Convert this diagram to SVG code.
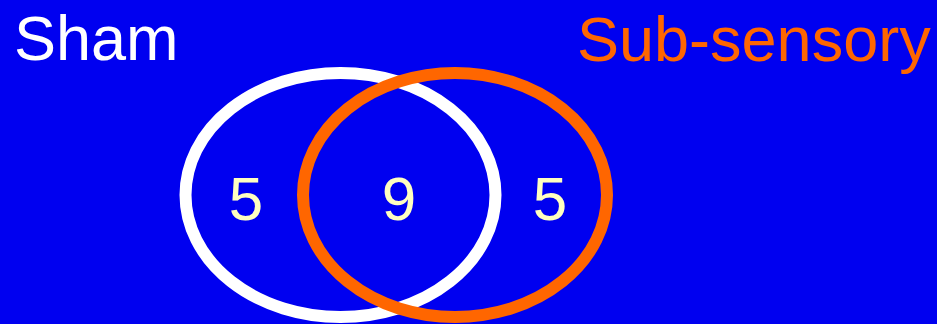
<svg xmlns="http://www.w3.org/2000/svg" width="937" height="324" viewBox="0 0 937 324">
<style>
.lbl{font-family:"Liberation Sans",Arial,sans-serif;font-size:63px}
.num{font-family:"Liberation Sans",Arial,sans-serif;font-size:62px;fill:#FFFFC0;text-anchor:middle}
.ring{fill:none;stroke-width:12}
</style>
<rect x="0" y="0" width="937" height="324" fill="#0000F0"/>
<g id="sham">
<ellipse class="ring" cx="340.5" cy="195" rx="155" ry="122" stroke="#FFFFFF"/>
<text class="lbl" x="14" y="60" fill="#FFFFFF">Sham</text>
</g>
<g id="subsensory">
<ellipse class="ring" cx="455" cy="195" rx="152" ry="122" stroke="#FF6600"/>
<text class="lbl" x="577" y="61" fill="#FF6600">Sub-sensory</text>
</g>
<g id="counts">
<text class="num" x="246" y="220">5</text>
<text class="num" x="399" y="220">9</text>
<text class="num" x="550" y="220">5</text>
</g>
<g id="connectors"/>
</svg>
